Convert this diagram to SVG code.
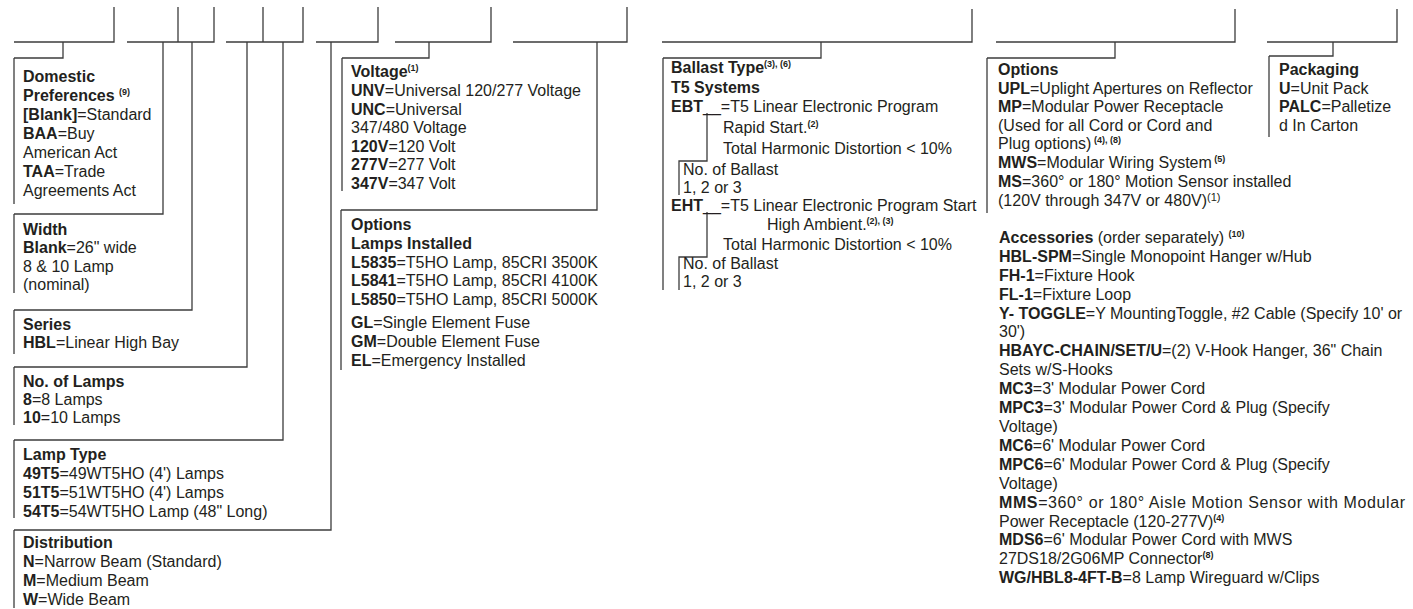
<svg xmlns="http://www.w3.org/2000/svg" width="1413" height="609" viewBox="0 0 1413 609">
<style>
text{font-family:"Liberation Sans",Arial,sans-serif;font-size:16px;fill:#231f20}
.b{font-weight:bold}
.s{font-size:9px;font-weight:bold}
.ln{stroke:#3c3c3c;stroke-width:1.3;fill:none}
</style>
<rect width="1413" height="609" fill="#fff"/>
<g id="connectors" class="ln">
<path d="M14 42H114V7M63 42V58H14"/>
<path d="M127 42H214V7M178 42V7M163 42V214H14M192 42V310H14"/>
<path d="M226 42H303V7M263 42V7M247 42V367H14M283 42V440H14"/>
<path d="M316 42H378V7M331 42V530H14"/>
<path d="M395 42H491V7M429 42V58H342"/>
<path d="M513 42H627V7M597 42V210H341"/>
<path d="M662 42H972V9M821 42V58H663"/>
<path d="M996 42H1235V9M1115 42V58H987"/>
<path d="M1267 42H1397V9M1333 42V56H1269"/>
</g>
<g id="domestic">
<path class="ln" d="M14 58V204"/>
<text x="23" y="82" class="b">Domestic</text>
<text x="23" y="101"><tspan class="b">Preferences </tspan><tspan class="s" dy="-6">(9)</tspan></text>
<text x="23" y="120"><tspan class="b">[Blank]</tspan>=Standard</text>
<text x="23" y="139"><tspan class="b">BAA</tspan>=Buy</text>
<text x="23" y="158">American Act</text>
<text x="23" y="177"><tspan class="b">TAA</tspan>=Trade</text>
<text x="23" y="196">Agreements Act</text>
</g>
<g id="width">
<path class="ln" d="M14 214V293"/>
<text x="23" y="235" class="b">Width</text>
<text x="23" y="253"><tspan class="b">Blank</tspan>=26" wide</text>
<text x="23" y="272">8 &amp; 10 Lamp</text>
<text x="23" y="290">(nominal)</text>
</g>
<g id="series">
<path class="ln" d="M14 310V354"/>
<text x="23" y="330" class="b">Series</text>
<text x="23" y="348"><tspan class="b">HBL</tspan>=Linear High Bay</text>
</g>
<g id="lamps">
<path class="ln" d="M14 367V425"/>
<text x="23" y="387" class="b">No. of Lamps</text>
<text x="23" y="405"><tspan class="b">8</tspan>=8 Lamps</text>
<text x="23" y="423"><tspan class="b">10</tspan>=10 Lamps</text>
</g>
<g id="lamptype">
<path class="ln" d="M14 440V518"/>
<text x="23" y="460" class="b">Lamp Type</text>
<text x="23" y="479"><tspan class="b">49T5</tspan>=49WT5HO (4') Lamps</text>
<text x="23" y="498"><tspan class="b">51T5</tspan>=51WT5HO (4') Lamps</text>
<text x="23" y="517"><tspan class="b">54T5</tspan>=54WT5HO Lamp (48" Long)</text>
</g>
<g id="distribution">
<path class="ln" d="M14 530V608"/>
<text x="23" y="548" class="b">Distribution</text>
<text x="23" y="567"><tspan class="b">N</tspan>=Narrow Beam (Standard)</text>
<text x="23" y="586"><tspan class="b">M</tspan>=Medium Beam</text>
<text x="23" y="605"><tspan class="b">W</tspan>=Wide Beam</text>
</g>
<g id="voltage">
<path class="ln" d="M342 58V191"/>
<text x="351" y="77"><tspan class="b">Voltage</tspan><tspan class="s" dy="-6">(1)</tspan></text>
<text x="351" y="96"><tspan class="b">UNV</tspan>=Universal  120/277 Voltage</text>
<text x="351" y="115"><tspan class="b">UNC</tspan>=Universal</text>
<text x="351" y="133">347/480 Voltage</text>
<text x="351" y="152"><tspan class="b">120V</tspan>=120 Volt</text>
<text x="351" y="170"><tspan class="b">277V</tspan>=277 Volt</text>
<text x="351" y="189"><tspan class="b">347V</tspan>=347 Volt</text>
</g>
<g id="options-lamps">
<path class="ln" d="M341 210V370"/>
<text x="351" y="230" class="b">Options</text>
<text x="351" y="249" class="b">Lamps Installed</text>
<text x="351" y="268"><tspan class="b">L5835</tspan>=T5HO Lamp, 85CRI 3500K</text>
<text x="351" y="286"><tspan class="b">L5841</tspan>=T5HO Lamp, 85CRI 4100K</text>
<text x="351" y="305"><tspan class="b">L5850</tspan>=T5HO Lamp, 85CRI 5000K</text>
<text x="351" y="328"><tspan class="b">GL</tspan>=Single Element Fuse</text>
<text x="351" y="347"><tspan class="b">GM</tspan>=Double Element Fuse</text>
<text x="351" y="366"><tspan class="b">EL</tspan>=Emergency Installed</text>
</g>
<g id="ballast">
<path class="ln" d="M663 58V290"/>
<path class="ln" d="M707 113V161H679V195M707 212V257H679V290"/>
<text x="671" y="73"><tspan class="b">Ballast Type</tspan><tspan class="s" dy="-6">(3), (6)</tspan></text>
<text x="671" y="93" class="b">T5 Systems</text>
<text x="671" y="112"><tspan class="b">EBT</tspan>__=T5 Linear Electronic Program</text>
<text x="723" y="133">Rapid Start.<tspan class="s" dy="-6">(2)</tspan></text>
<text x="723" y="154">Total Harmonic Distortion &lt; 10%</text>
<text x="683" y="175">No. of Ballast</text>
<text x="683" y="193">1, 2 or 3</text>
<text x="671" y="211"><tspan class="b">EHT</tspan>__=T5 Linear Electronic Program Start</text>
<text x="767" y="230">High Ambient.<tspan class="s" dy="-6">(2), (3)</tspan></text>
<text x="723" y="250">Total Harmonic Distortion &lt; 10%</text>
<text x="683" y="269">No. of Ballast</text>
<text x="683" y="287">1, 2 or 3</text>
</g>
<g id="options">
<path class="ln" d="M987 58V213"/>
<text x="998" y="75" class="b">Options</text>
<text x="998" y="94"><tspan class="b">UPL</tspan>=Uplight Apertures on Reflector</text>
<text x="998" y="112"><tspan class="b">MP</tspan>=Modular Power Receptacle</text>
<text x="998" y="131">(Used for all Cord or Cord and</text>
<text x="998" y="149">Plug options)<tspan class="s" dy="-6"> (4), (8)</tspan></text>
<text x="998" y="168"><tspan class="b">MWS</tspan>=Modular Wiring System<tspan class="s" dy="-6"> (5)</tspan></text>
<text x="998" y="187"><tspan class="b">MS</tspan>=360° or 180° Motion Sensor installed</text>
<text x="998" y="206">(120V through 347V or 480V)<tspan font-size="11" dy="-5">(1)</tspan></text>
</g>
<g id="packaging">
<path class="ln" d="M1269 56V137"/>
<text x="1279" y="75" class="b">Packaging</text>
<text x="1279" y="94"><tspan class="b">U</tspan>=Unit Pack</text>
<text x="1279" y="112"><tspan class="b">PALC</tspan>=Palletize</text>
<text x="1279" y="131">d In Carton</text>
</g>
<g id="accessories">
<text x="999" y="243"><tspan class="b">Accessories</tspan> (order separately) <tspan class="s" dy="-6">(10)</tspan></text>
<text x="999" y="262"><tspan class="b">HBL-SPM</tspan>=Single Monopoint Hanger w/Hub</text>
<text x="999" y="281"><tspan class="b">FH-1</tspan>=Fixture Hook</text>
<text x="999" y="300"><tspan class="b">FL-1</tspan>=Fixture Loop</text>
<text x="999" y="319"><tspan class="b">Y- TOGGLE</tspan>=Y MountingToggle, #2 Cable (Specify 10' or</text>
<text x="999" y="337">30')</text>
<text x="999" y="356"><tspan class="b">HBAYC-CHAIN/SET/U</tspan>=(2) V-Hook Hanger, 36" Chain</text>
<text x="999" y="375">Sets w/S-Hooks</text>
<text x="999" y="394"><tspan class="b">MC3</tspan>=3' Modular Power Cord</text>
<text x="999" y="413"><tspan class="b">MPC3</tspan>=3' Modular Power Cord &amp; Plug (Specify</text>
<text x="999" y="432">Voltage)</text>
<text x="999" y="451"><tspan class="b">MC6</tspan>=6' Modular Power Cord</text>
<text x="999" y="470"><tspan class="b">MPC6</tspan>=6' Modular Power Cord &amp; Plug (Specify</text>
<text x="999" y="489">Voltage)</text>
<text x="999" y="508" textLength="406" lengthAdjust="spacing"><tspan class="b">MMS</tspan>=360° or 180° Aisle Motion Sensor with Modular</text>
<text x="999" y="527">Power Receptacle (120-277V)<tspan class="s" dy="-6">(4)</tspan></text>
<text x="999" y="545"><tspan class="b">MDS6</tspan>=6' Modular Power Cord with MWS</text>
<text x="999" y="564">27DS18/2G06MP Connector<tspan class="s" dy="-6">(8)</tspan></text>
<text x="999" y="583"><tspan class="b">WG/HBL8-4FT-B</tspan>=8 Lamp Wireguard w/Clips</text>
</g>
</svg>
